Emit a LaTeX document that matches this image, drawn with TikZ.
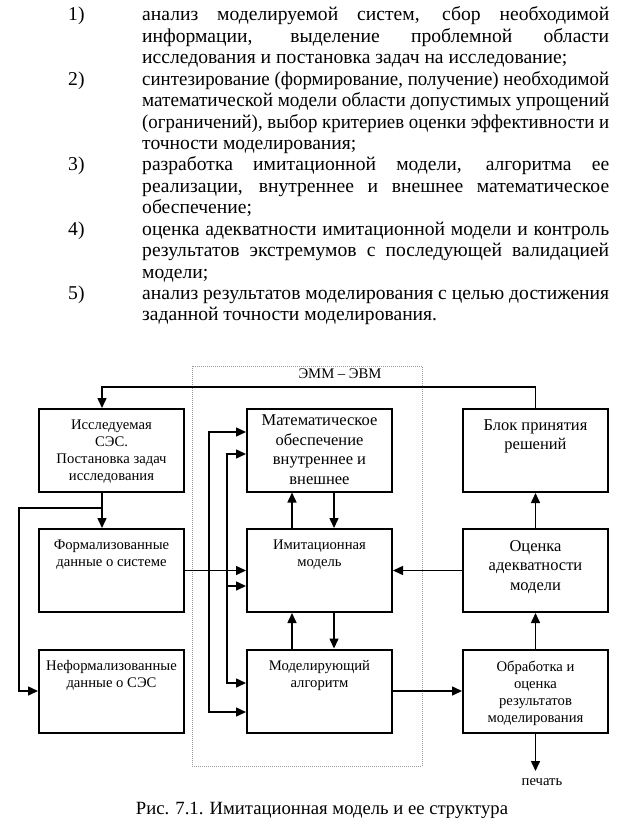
\documentclass[tikz,border=0pt]{standalone}
\usepackage{fontspec}
\setmainfont{Liberation Serif}
\usetikzlibrary{arrows.meta}
\newsavebox{\JBox}
\newcommand{\JLine}[1]{\sbox{\JBox}{#1}\ifdim\wd\JBox>467pt\relax\resizebox{467pt}{\height}{\usebox{\JBox}}\else\makebox[467pt][s]{#1}\fi}
\begin{document}
\begin{tikzpicture}[x=1pt,y=-1pt,
  txt/.style={font=\fontsize{19.6}{21.47}\selectfont, inner sep=0pt, anchor=base west},
  box/.style={draw, line width=2pt, minimum width=145pt, minimum height=83pt, inner sep=0pt},
  small/.style={font=\fontsize{14.67}{17.1}\selectfont, align=center, inner sep=0pt},
  big/.style={font=\fontsize{16.5}{19.5}\selectfont, align=center, inner sep=0pt},
  tip/.tip={Triangle[length=10pt,width=9pt]},
  conn/.style={line width=1.5pt, -tip},
  both/.style={line width=1.5pt, tip-tip},
  frame/.style={draw=gray!80, line width=0.8pt, dash pattern=on 1pt off 1pt, minimum width=230pt, minimum height=400pt, inner sep=0pt}
]
\useasboundingbox (0,0) rectangle (623,829);

% ---- numbered list ----
\node[txt] (n1) at (68,20.9) {1)};
\node[txt] (l1) at (142,20.9) {\JLine{анализ моделируемой систем, сбор необходимой}};
\node[txt] (l2) at (142,42.3) {\JLine{информации, выделение проблемной области}};
\node[txt] (l3) at (142,63.8) {исследования и постановка задач на исследование;};
\node[txt] (n2) at (68,85.2) {2)};
\node[txt] (l4) at (142,85.2) {\JLine{синтезирование (формирование, получение) необходимой}};
\node[txt] (l5) at (142,106.6) {\JLine{математической модели области допустимых упрощений}};
\node[txt] (l6) at (142,128.1) {\JLine{(ограничений), выбор критериев оценки эффективности и}};
\node[txt] (l7) at (142,149.5) {точности моделирования;};
\node[txt] (n3) at (68,170.9) {3)};
\node[txt] (l8) at (142,170.9) {\JLine{разработка имитационной модели, алгоритма ее}};
\node[txt] (l9) at (142,192.3) {\JLine{реализации, внутреннее и внешнее математическое}};
\node[txt] (l10) at (142,213.8) {обеспечение;};
\node[txt] (n4) at (68,235.2) {4)};
\node[txt] (l11) at (142,235.2) {\JLine{оценка адекватности имитационной модели и контроль}};
\node[txt] (l12) at (142,256.6) {\JLine{результатов экстремумов с последующей валидацией}};
\node[txt] (l13) at (142,278.1) {модели;};
\node[txt] (n5) at (68,299.5) {5)};
\node[txt] (l14) at (142,299.5) {\JLine{анализ результатов моделирования с целью достижения}};
\node[txt] (l15) at (142,320.9) {заданной точности моделирования.};

% ---- frame ----
\node[frame] (F) at (307,566) {};
\node[small] (Ft) at (340,374) {ЭММ – ЭВМ};

% ---- boxes ----
\node[box] (A) at (111.5,450.5) {};
\node[box] (B) at (111.5,570.5) {};
\node[box] (C) at (111.5,691) {};
\node[box] (D) at (319.5,450) {};
\node[box] (I) at (319.5,570.5) {};
\node[box] (M) at (319.5,691) {};
\node[box] (K) at (535.5,450.5) {};
\node[box] (O) at (535.5,570.5) {};
\node[box] (P) at (535.5,691) {};

\node[small] (At) at (111.5,451.5) {Исследуемая\\СЭС.\\Постановка задач\\исследования};
\node[small] (Bt) at (111.5,554.5) {Формализованные\\данные о системе};
\node[small] (Ct) at (111.5,675.5) {Неформализованные\\данные о СЭС};
\node[big] (Dt) at (319.5,449.5) {Математическое\\обеспечение\\внутреннее и\\внешнее};
\node[small] (It) at (319.5,554.5) {Имитационная\\модель};
\node[small] (Mt) at (319.5,675.5) {Моделирующий\\алгоритм};
\node[big] (Kt) at (535.5,436.5) {Блок принятия\\решений};
\node[big] (Ot) at (535.5,567) {Оценка\\адекватности\\модели};
\node[small] (Pt) at (535.5,693) {Обработка и\\оценка\\результатов\\моделирования};
\node[small] (pr) at (542,782) {печать};

% ---- helper coordinates ----
\coordinate (xa) at (102,0);
\coordinate (ytop) at (0,387);
\coordinate (jn) at (102,508);
\coordinate (lft) at (19,508);
\coordinate (xu) at (292,0);
\coordinate (xd) at (334,0);
\coordinate (b1t) at (209,432);
\coordinate (b1b) at (209,712);
\coordinate (b2t) at (227,454);
\coordinate (b2m) at (227,586);
\coordinate (b2b) at (227,683);
\coordinate (prEnd) at (535.5,771);

% ---- connectors ----
\draw[conn] (K.north) -- (K.north |- ytop) -| (A.north -| xa);
\draw[conn] (A.south -| xa) -- (B.north -| xa);
\draw[conn] (jn) -- (lft) |- (C.west);
\draw[conn] (I.north -| xu) -- (D.south -| xu);
\draw[conn] (D.south -| xd) -- (I.north -| xd);
\draw[conn] (M.north -| xu) -- (I.south -| xu);
\draw[conn] (I.south -| xd) -- (M.north -| xd);
\draw[conn] (B.east) -- (I.west);
\draw[both] (D.west |- b1t) -- (b1t) -- (b1b) -- (M.west |- b1b);
\draw[both] (D.west |- b2t) -- (b2t) -- (b2b) -- (M.west |- b2b);
\draw[conn] (b2m) -- (I.west |- b2m);
\draw[conn] (O.west) -- (I.east);
\draw[conn] (M.east) -- (P.west);
\draw[conn] (P.north) -- (O.south);
\draw[conn] (O.north) -- (K.south);
\draw[conn] (P.south) -- (prEnd);

% ---- caption ----
\node[font=\fontsize{18.67}{21.47}\selectfont, inner sep=0pt] (cap) at (322,810) {Рис. 7.1. Имитационная модель и ее структура};
\end{tikzpicture}
\end{document}
